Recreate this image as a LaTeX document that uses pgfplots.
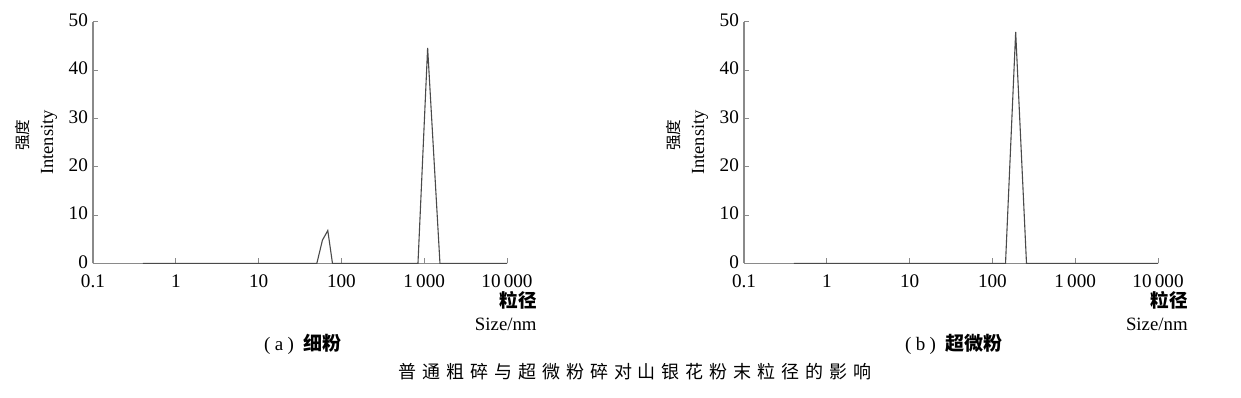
\documentclass[border=0pt]{standalone}
\usepackage{fontspec}
\setmainfont{Liberation Serif}
\newfontfamily\cjk{Noto Sans CJK SC}
\newfontfamily\cjkcap{Noto Sans CJK SC}[LetterSpace=33]
\usepackage{pgfplots}
\pgfplotsset{compat=1.18}
\definecolor{axgray}{HTML}{8A8A8A}
\definecolor{linegray}{HTML}{4A4A4A}
\pgfplotsset{psd/.style={
  scale only axis, width=207pt, height=120.85pt,
  xmin=0.1, xmax=10000, ymin=0, ymax=50,
  axis x line=bottom, axis y line=left,
  axis line style={axgray, line width=0.6pt, -},
  xtick={0.1,1,10,100,1000,10000},
  xticklabels={0.1,1,10,100,1\,000,10\,000},
  ytick={0,10,20,30,40,50},
  xminorticks=false, yminorticks=false,
  tick align=inside, major tick length=2.5pt,
  tick style={axgray, line width=0.5pt},
  tick label style={font=\fontsize{9.6}{10}\selectfont},
  /pgf/number format/assume math mode=true,
  yticklabel style={xshift=1pt, yshift=0.8pt},
  xticklabel style={yshift=-2pt},
}}
\begin{document}
\begin{tikzpicture}
\useasboundingbox (0,0) rectangle (620.5pt,198.5pt);
% left panel
\begin{semilogxaxis}[psd, at={(46.5pt,66.8pt)}, anchor=south west]
\addplot[linegray, line width=0.55pt, mark=none] coordinates {(0.4,0) (50.5,0) (59,4.8) (68.5,6.8) (78,0) (841,0) (1100,44.6) (1550,0) (10000,0)};
\end{semilogxaxis}
% right panel
\begin{semilogxaxis}[psd, at={(372pt,66.8pt)}, anchor=south west]
\addplot[linegray, line width=0.55pt, mark=none] coordinates {(0.4,0) (144,0) (191,47.9) (258,0) (10000,0)};
\end{semilogxaxis}
% y labels
\node[rotate=90, font=\cjk\fontsize{7.8}{8}\selectfont] at (11.5pt,131pt) {强度};
\node[rotate=90, font=\fontsize{9.25}{10}\selectfont] at (24.5pt,127.25pt) {Intensity};
\node[rotate=90, font=\cjk\fontsize{7.8}{8}\selectfont] at (337pt,131pt) {强度};
\node[rotate=90, font=\fontsize{9.25}{10}\selectfont] at (350pt,127.25pt) {Intensity};
% x labels
\node[anchor=east, inner sep=0pt, font=\cjk\bfseries\fontsize{9.3}{10}\selectfont] at (268.5pt,48.5pt) {粒径};
\node[anchor=east, inner sep=0pt, font=\fontsize{9.4}{10}\selectfont] at (268.5pt,36.5pt) {Size/nm};
\node[anchor=east, inner sep=0pt, font=\cjk\bfseries\fontsize{9.3}{10}\selectfont] at (594pt,48.5pt) {粒径};
\node[anchor=east, inner sep=0pt, font=\fontsize{9.4}{10}\selectfont] at (594pt,36.5pt) {Size/nm};
% sub captions
\node[inner sep=0pt, font=\fontsize{9.5}{10}\selectfont] at (151.5pt,26.5pt) {(\hspace{2.2pt}a\hspace{2.2pt})\hspace{5pt}{\cjk\bfseries 细粉}};
\node[inner sep=0pt, font=\fontsize{9.5}{10}\selectfont] at (477pt,26.5pt) {(\hspace{2.2pt}b\hspace{2.2pt})\hspace{5pt}{\cjk\bfseries 超微粉}};
% main caption
\node[inner sep=0pt, font=\cjkcap\fontsize{9}{10}\selectfont] at (317.5pt,12.5pt) {普通粗碎与超微粉碎对山银花粉末粒径的影响};
\end{tikzpicture}
\end{document}
